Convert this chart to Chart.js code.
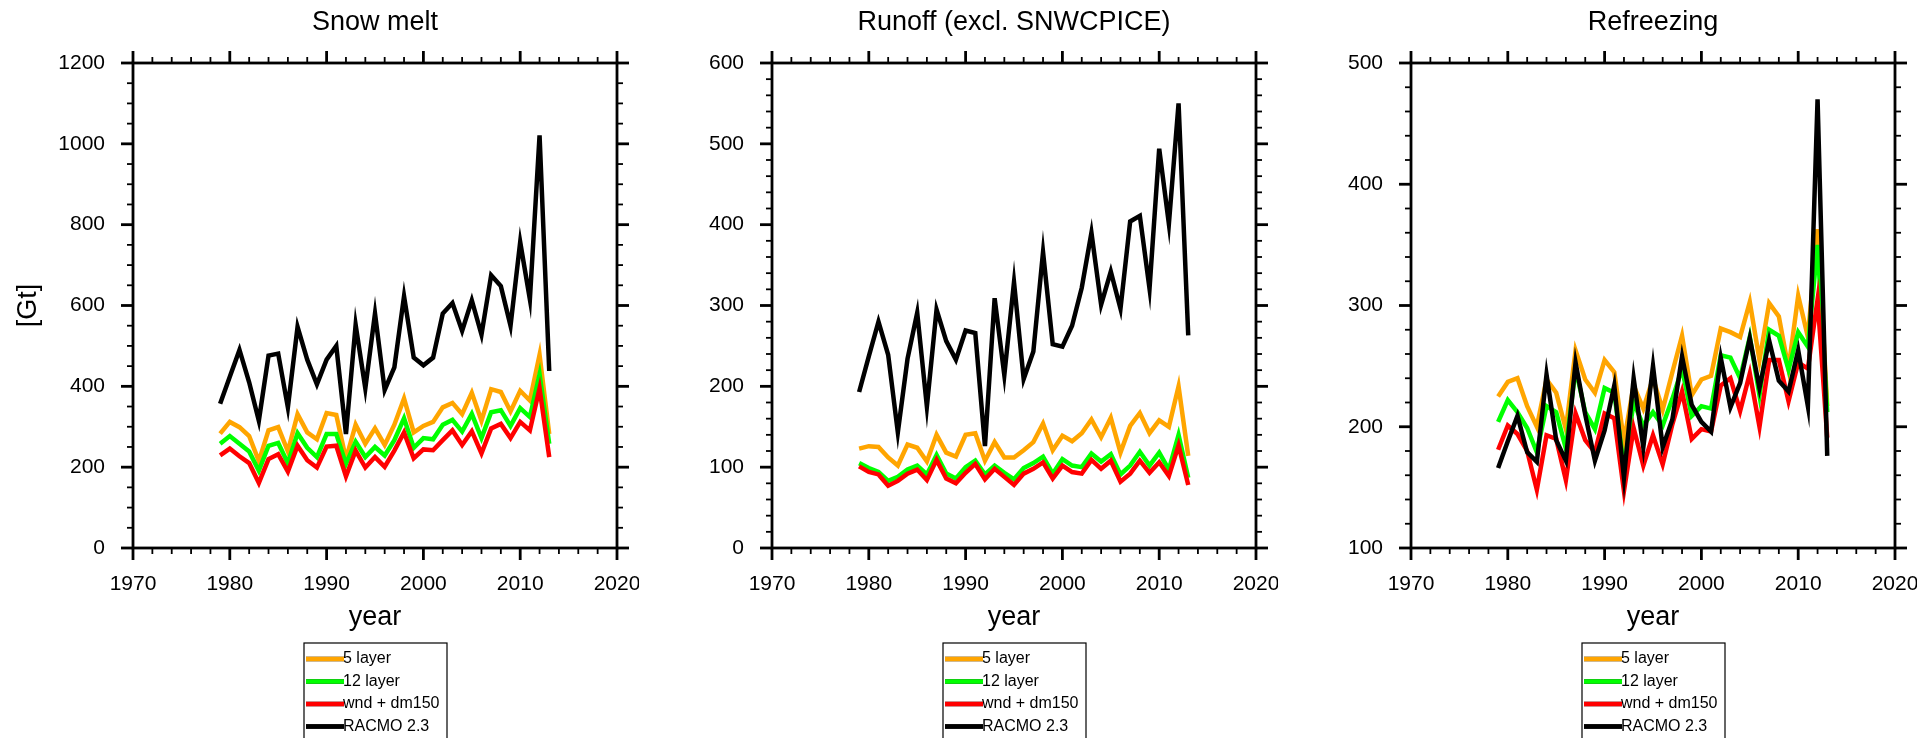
<!DOCTYPE html>
<html lang="en">
<head>
  <meta charset="UTF-8" />
  <title>Snow melt, runoff and refreezing</title>
  <script src="https://cdn.jsdelivr.net/npm/chart.js"></script>
  <style>
    body {
      margin: 0;
      background: #fff;
      width: 1917px;
      height: 738px;
      overflow: hidden;
      position: relative;
    }
    canvas {
      position: absolute;
      top: 0;
      width: 639px;
      height: 738px;
    }
  </style>
</head>
<body>
  <canvas id="meltChart" width="639" height="738" style="left:0px"></canvas>
  <canvas id="runoffChart" width="639" height="738" style="left:639px"></canvas>
  <canvas id="refreezeChart" width="639" height="738" style="left:1278px"></canvas>

  <script>
    const years = [1979, 1980, 1981, 1982, 1983, 1984, 1985, 1986, 1987, 1988,
                   1989, 1990, 1991, 1992, 1993, 1994, 1995, 1996, 1997, 1998,
                   1999, 2000, 2001, 2002, 2003, 2004, 2005, 2006, 2007, 2008,
                   2009, 2010, 2011, 2012, 2013];

    const legendLabels = ["5 layer", "12 layer", "wnd + dm150", "RACMO 2.3"];
    const lineColors = ["#ffa500", "#00ff00", "#ff0000", "#000000"];

    // Snow melt [Gt]
    const meltFive   = [283, 312, 299, 277, 215, 291, 299, 239, 331, 286, 269, 334, 329, 220, 305, 258, 296, 255, 305, 370, 286, 302, 312, 348, 359, 331, 384, 315, 393, 386, 338, 389, 365, 478, 282];
    const meltTwelve = [258, 277, 258, 239, 191, 253, 260, 210, 284, 248, 225, 282, 282, 208, 263, 225, 250, 229, 267, 321, 248, 272, 269, 305, 317, 288, 332, 272, 336, 341, 302, 346, 324, 430, 258];
    const meltWnd    = [229, 246, 227, 210, 161, 220, 232, 189, 253, 217, 199, 251, 253, 177, 241, 199, 225, 201, 241, 286, 222, 244, 242, 267, 291, 255, 289, 234, 296, 307, 272, 312, 291, 395, 225];
    const meltRacmo  = [357, 424, 490, 410, 315, 476, 481, 348, 547, 466, 405, 466, 500, 282, 552, 395, 580, 391, 447, 623, 471, 452, 471, 580, 606, 537, 613, 528, 675, 648, 550, 757, 615, 1021, 438];

    // Runoff, excluding SNWCPICE [Gt]
    const runFive    = [123, 126, 125, 112, 102, 128, 124, 107, 140, 118, 113, 140, 142, 108, 131, 112, 112, 121, 131, 154, 121, 139, 132, 142, 159, 137, 161, 118, 151, 167, 142, 158, 150, 200, 114];
    const runTwelve  = [105, 99, 94, 83, 88, 97, 102, 91, 115, 92, 86, 100, 108, 91, 102, 93, 85, 99, 105, 113, 92, 110, 102, 100, 117, 107, 116, 91, 102, 119, 102, 118, 97, 140, 87];
    const runWnd     = [101, 94, 91, 77, 83, 92, 97, 84, 109, 86, 80, 93, 104, 85, 98, 88, 78, 92, 98, 106, 86, 102, 94, 92, 109, 98, 108, 82, 92, 108, 93, 106, 89, 127, 78];
    const runRacmo   = [193, 237, 280, 239, 143, 234, 291, 175, 295, 256, 233, 269, 266, 126, 309, 214, 329, 209, 243, 366, 252, 249, 275, 322, 390, 301, 342, 296, 404, 411, 321, 494, 401, 550, 263];

    // Refreezing [Gt]
    const refFive    = [225, 237, 240, 217, 200, 239, 228, 198, 263, 239, 228, 255, 245, 188, 234, 215, 240, 214, 245, 275, 226, 239, 242, 281, 278, 274, 303, 255, 302, 291, 248, 308, 274, 363, 217];
    const refTwelve  = [204, 222, 212, 199, 179, 217, 212, 182, 248, 212, 198, 232, 228, 166, 220, 201, 212, 201, 223, 248, 209, 217, 215, 259, 257, 240, 274, 226, 280, 275, 247, 278, 266, 350, 212];
    const refWnd     = [181, 201, 194, 180, 148, 193, 190, 156, 211, 189, 179, 211, 207, 147, 199, 168, 193, 169, 202, 229, 190, 198, 196, 234, 240, 213, 244, 200, 255, 255, 221, 253, 248, 305, 191];
    const refRacmo   = [166, 188, 209, 179, 171, 243, 189, 172, 253, 210, 172, 197, 234, 158, 240, 183, 250, 183, 206, 258, 218, 204, 196, 257, 216, 236, 273, 232, 271, 238, 229, 263, 217, 470, 176];

    const FONT = "'Liberation Sans', Arial, Helvetica, sans-serif";

    // frame, outward ticks on all four sides, titles and boxed legend
    const framePlugin = {
      id: "ncFrame",
      afterDatasetsDraw(chart, args, opts) {
        const ctx = chart.ctx;
        const { left, right, top, bottom } = chart.chartArea;
        const xs = chart.scales.x;
        const ys = chart.scales.y;
        const midX = (left + right) / 2;

        ctx.save();
        ctx.strokeStyle = "#000";
        ctx.lineCap = "butt";

        function seg(x1, y1, x2, y2, w) {
          ctx.lineWidth = w;
          ctx.beginPath();
          ctx.moveTo(x1, y1);
          ctx.lineTo(x2, y2);
          ctx.stroke();
        }

        // x ticks every 2 years, major every 10
        for (let v = xs.min; v <= xs.max; v += 2) {
          const px = xs.getPixelForValue(v);
          const major = (v - xs.min) % 10 === 0;
          const len = major ? 12 : 6;
          const w = major ? 2.8 : 1.8;
          seg(px, bottom, px, bottom + len, w);
          seg(px, top, px, top - len, w);
        }
        // y ticks
        const nMinor = Math.round((ys.max - ys.min) / opts.yMinor);
        for (let i = 0; i <= nMinor; i++) {
          const v = ys.min + i * opts.yMinor;
          const py = ys.getPixelForValue(v);
          const major = (v - ys.min) % opts.yMajor === 0;
          const len = major ? 12 : 6;
          const w = major ? 2.8 : 1.8;
          seg(left, py, left - len, py, w);
          seg(right, py, right + len, py, w);
        }

        ctx.lineWidth = 2.8;
        ctx.strokeRect(left, top, right - left, bottom - top);

        ctx.fillStyle = "#000";
        ctx.font = "27px " + FONT;
        ctx.textAlign = "center";
        ctx.textBaseline = "alphabetic";
        ctx.fillText(opts.title, midX, 30);
        ctx.fillText("year", midX, 625);

        if (opts.yTitle) {
          ctx.save();
          ctx.translate(36, (top + bottom) / 2);
          ctx.rotate(-Math.PI / 2);
          ctx.fillText(opts.yTitle, 0, 0);
          ctx.restore();
        }

        // legend box below the axis title
        const boxL = left + 171;
        const boxT = 643;
        ctx.lineWidth = 1.2;
        ctx.strokeRect(boxL, boxT, 143, 120);
        ctx.font = "16px " + FONT;
        ctx.textAlign = "left";
        chart.data.datasets.forEach((ds, i) => {
          const ly = 659 + i * 22.5;
          seg(boxL + 2, ly, boxL + 40, ly, 4.5);
          ctx.strokeStyle = "#000";
          ctx.fillText(ds.label, boxL + 39, ly + 4);
        });
        ctx.restore();
      }
    };

    function makeChart(id, title, yTitle, series, yMin, yMax, yStep, yMinor) {
      const datasets = series.map((vals, i) => ({
        label: legendLabels[i],
        data: years.map((yr, k) => ({ x: yr, y: vals[k] })),
        borderColor: lineColors[i],
        borderWidth: 4.5,
        pointRadius: 0,
        tension: 0,
        fill: false,
        order: series.length - 1 - i
      }));

      // legend strokes need their own colour
      const legendPlugin = {
        id: "legendColours",
        afterDraw(chart) {
          const ctx = chart.ctx;
          const boxL = chart.chartArea.left + 171;
          ctx.save();
          ctx.lineWidth = 4.5;
          chart.data.datasets.forEach((ds, i) => {
            const ly = 659 + i * 22.5;
            ctx.strokeStyle = ds.borderColor;
            ctx.beginPath();
            ctx.moveTo(boxL + 2, ly);
            ctx.lineTo(boxL + 40, ly);
            ctx.stroke();
          });
          ctx.restore();
        }
      };

      return new Chart(document.getElementById(id), {
        type: "line",
        data: { datasets: datasets },
        options: {
          responsive: false,
          animation: false,
          devicePixelRatio: 1,
          layout: { padding: { top: 63, right: 22, left: 0, bottom: 0 } },
          plugins: {
            legend: { display: false },
            title: { display: false },
            tooltip: { enabled: false },
            ncFrame: { title: title, yTitle: yTitle, yMajor: yStep, yMinor: yMinor }
          },
          scales: {
            x: {
              type: "linear",
              min: 1970,
              max: 2020,
              afterFit: s => { s.height = 190; s.paddingLeft = 0; s.paddingRight = 0; },
              grid: { display: false, drawTicks: false },
              border: { display: false },
              ticks: {
                stepSize: 10,
                padding: 24,
                autoSkip: false,
                maxRotation: 0,
                color: "#000",
                font: { family: FONT, size: 21 },
                callback: v => String(v)
              }
            },
            y: {
              type: "linear",
              min: yMin,
              max: yMax,
              afterFit: s => { s.width = 133; },
              grid: { display: false, drawTicks: false },
              border: { display: false },
              ticks: {
                stepSize: yStep,
                padding: 28,
                color: "#000",
                font: { family: FONT, size: 21 },
                callback: v => String(v)
              }
            }
          }
        },
        plugins: [framePlugin, legendPlugin]
      });
    }

    makeChart("meltChart", "Snow melt", "[Gt]",
      [meltFive, meltTwelve, meltWnd, meltRacmo], 0, 1200, 200, 50);
    makeChart("runoffChart", "Runoff (excl. SNWCPICE)", null,
      [runFive, runTwelve, runWnd, runRacmo], 0, 600, 100, 20);
    makeChart("refreezeChart", "Refreezing", null,
      [refFive, refTwelve, refWnd, refRacmo], 100, 500, 100, 20);
  </script>
</body>
</html>
